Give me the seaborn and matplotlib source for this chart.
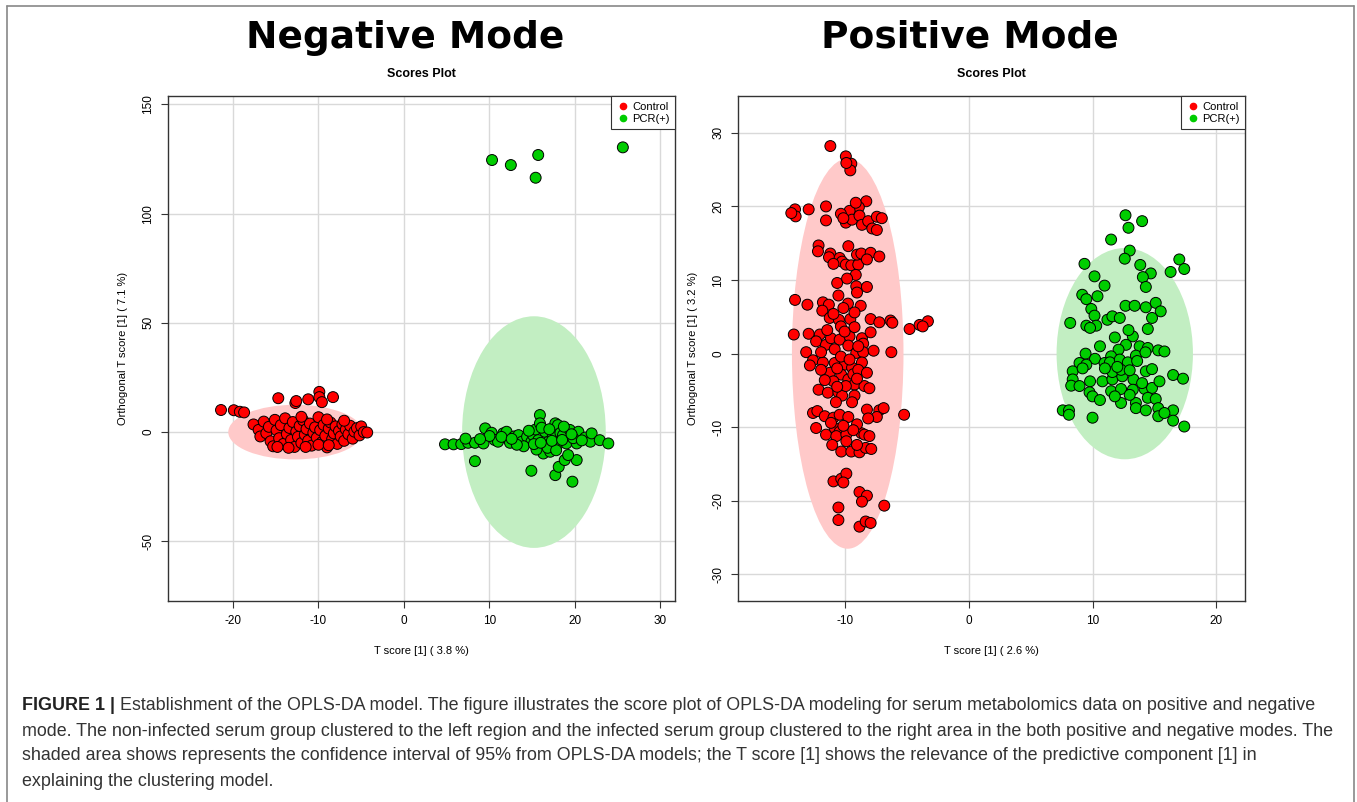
import pandas as pd
import matplotlib.pyplot as plt
import seaborn as sns
from matplotlib.patches import Ellipse
from matplotlib.lines import Line2D

# ---- data ----
# negative mode: (T score, orthogonal T score)
neg_control = [(-21.4, 10.1), (-19.9, 10.0), (-19.2, 9.3), (-18.7, 9.0), (-14.7, 15.5), (-12.7, 13.3),
               (-12.6, 14.2), (-11.2, 15.0), (-9.9, 18.4), (-9.9, 16.0), (-9.6, 13.7), (-8.3, 16.0),
               (-17.6, 3.5), (-17.0, 1.0), (-16.8, -2.0), (-16.4, 4.8), (-16.1, -0.5), (-15.8, 2.4),
               (-15.6, -4.2), (-15.3, -6.5), (-15.1, 5.6), (-14.9, 0.8), (-14.6, -2.8), (-14.4, 3.2),
               (-14.1, -5.4), (-13.9, 6.3), (-13.7, -0.9), (-13.4, 1.9), (-13.2, -3.6), (-13.0, 4.6),
               (-12.8, -6.8), (-12.6, 0.2), (-12.4, -2.2), (-12.2, 2.8), (-12.0, -5.0), (-11.8, 5.4),
               (-11.6, -1.2), (-11.4, 1.4), (-11.2, -3.9), (-11.0, 3.9), (-10.8, -6.2), (-10.6, -0.3),
               (-10.4, 2.2), (-10.2, -2.6), (-10.0, 6.8), (-9.8, 0.9), (-9.6, -4.6), (-9.4, 3.3),
               (-9.2, -1.7), (-9.0, -7.0), (-8.8, 1.6), (-8.6, 4.4), (-8.4, -3.2), (-8.2, -0.6),
               (-8.0, 2.6), (-7.8, -5.4), (-7.6, 0.5), (-7.4, -2.0), (-7.2, 3.6), (-7.0, -4.0),
               (-6.8, 1.2), (-6.5, -1.0), (-6.3, 2.9), (-6.0, -3.0), (-5.8, 0.2), (-5.5, 1.8),
               (-5.2, -1.5), (-5.0, 2.6), (-4.7, 0.0), (-4.3, -0.2), (-13.5, -7.2), (-11.5, -6.8),
               (-10.0, -5.8), (-8.8, -6.0), (-14.8, -6.8), (-12.0, 7.0), (-9.0, 5.8), (-7.0, 5.2)]
neg_pcr = [(4.8, -5.6), (5.8, -5.6), (6.7, -5.5), (7.5, -4.9), (8.3, -4.9), (9.3, -5.2), (9.5, 1.7),
           (10.25, -0.3), (10.6, -3.6), (11.0, -4.4), (11.6, -0.6), (12.0, 0.15), (12.4, -4.9),
           (12.9, -2.0), (13.4, -1.4), (13.8, -4.4), (14.4, -2.1), (14.9, -4.4), (15.1, -1.4),
           (15.4, 1.2), (15.7, -3.7), (15.9, 7.8), (15.9, 4.0), (16.3, -6.7), (16.3, -9.8),
           (16.5, 0.15), (16.9, -4.4), (17.1, -9.0), (17.4, -2.2), (17.7, 4.0), (17.9, -6.0),
           (18.0, 3.2), (18.3, -0.4), (18.6, -1.4), (19.0, -5.2), (19.4, 1.0), (20.2, -5.2),
           (20.4, 0.15), (21.2, -2.5), (21.8, -4.4), (21.95, -0.6), (22.9, -3.7), (23.9, -5.2),
           (14.0, -6.5), (15.5, -8.0), (16.8, -7.2), (17.8, -8.3), (13.2, -5.8), (11.4, -2.2),
           (10.0, -1.8), (8.9, -3.2), (7.2, -3.0), (12.6, -3.1), (14.6, 0.6), (16.1, 2.0),
           (17.0, 1.3), (18.7, 2.5), (19.8, -2.8), (20.8, -3.8), (15.2, -5.5), (16.0, -4.9),
           (17.3, -4.0), (18.5, -3.6), (19.6, -1.0),
           (8.3, -13.3), (14.9, -17.7), (17.7, -19.7), (18.1, -15.9), (18.8, -12.8), (20.2, -12.8),
           (19.7, -22.7), (19.2, -10.5),
           (10.3, 124.5), (12.5, 122.2), (15.7, 126.8), (15.4, 116.4), (25.6, 130.3)]

# positive mode
pos_control = [(-11.15, 28.2), (-9.9, 26.8), (-9.46, 25.8), (-9.54, 24.9), (-9.86, 25.9), (-8.25, 20.7),
               (-8.85, 19.9), (-9.6, 19.4), (-10.3, 19.0), (-9.9, 17.8), (-9.4, 18.2), (-8.8, 18.75),
               (-8.6, 17.5), (-8.1, 18.0), (-7.77, 17.0), (-7.4, 16.8), (-7.4, 18.6), (-7.0, 18.4),
               (-11.5, 20.0), (-11.5, 18.1), (-12.9, 19.6), (-14.0, 19.6), (-13.95, 18.65), (-14.3, 19.1),
               (-12.1, 14.7), (-12.15, 13.9), (-11.15, 13.6), (-11.26, 13.1), (-10.4, 13.0), (-10.2, 12.5),
               (-9.9, 12.1), (-9.46, 12.0), (-8.9, 12.1), (-9.0, 13.45), (-8.65, 13.6), (-7.9, 13.7),
               (-7.2, 13.2), (-9.1, 10.7), (-9.06, 9.15), (-8.2, 9.06), (-9.0, 8.3), (-14.0, 7.3),
               (-13.0, 6.65), (-11.75, 6.97), (-11.27, 6.65), (-11.8, 5.84), (-10.5, 7.9), (-9.73, 6.8),
               (-10.1, 6.2), (-8.7, 6.5), (-11.2, 4.85), (-10.46, 4.6), (-9.54, 4.7), (-7.9, 4.7),
               (-7.2, 4.26), (-6.3, 4.5), (-6.15, 4.2), (-4.76, 3.35), (-3.95, 3.9), (-3.28, 4.4),
               (-3.7, 3.7), (-10.3, 3.7), (-14.1, 2.6), (-12.9, 2.7), (-12.0, 2.6), (-12.3, 1.67),
               (-11.5, 1.2), (-11.1, 2.1), (-10.4, 1.9), (-9.6, 2.35), (-9.7, 1.1), (-8.6, 2.1),
               (-8.5, 1.36), (-9.06, 0.1), (-8.5, 0.2), (-7.66, 0.4), (-6.23, 0.2), (-13.1, 0.2),
               (-12.55, -0.9), (-11.75, -1.2), (-10.8, -1.27), (-10.0, -1.5), (-9.4, -1.9), (-11.2, -2.6),
               (-10.27, -2.85), (-9.7, -3.5), (-9.2, -4.2), (-10.9, -3.76), (-12.1, -4.9), (-11.35, -5.3),
               (-10.5, -5.25), (-10.2, -5.7), (-9.2, -5.7), (-8.4, -4.4), (-8.0, -4.7), (-12.55, -8.06),
               (-12.2, -7.8), (-11.6, -8.5), (-10.9, -8.7), (-10.4, -8.3), (-9.7, -8.6), (-8.2, -7.6),
               (-7.2, -7.7), (-6.85, -7.4), (-7.4, -8.6), (-5.2, -8.3), (-12.3, -10.1), (-11.5, -11.0),
               (-10.8, -10.1), (-10.4, -10.6), (-10.67, -11.2), (-9.86, -11.0), (-9.86, -11.9),
               (-8.65, -10.8), (-8.4, -11.0), (-8.0, -11.2), (-10.27, -13.3), (-9.46, -13.3),
               (-8.8, -13.4), (-8.3, -12.8), (-7.85, -12.95), (-10.9, -17.35), (-10.27, -17.0),
               (-9.86, -16.3), (-10.1, -17.5), (-8.8, -18.8), (-8.2, -19.3), (-8.6, -20.1), (-6.8, -20.65),
               (-10.5, -20.9), (-10.5, -22.6), (-8.8, -23.5), (-8.3, -22.8), (-7.9, -23.0),
               (-10.6, 9.6), (-9.8, 10.2), (-8.6, -1.2), (-9.3, -2.8), (-10.8, 0.6), (-11.9, -2.2),
               (-9.0, -9.6), (-11.0, -12.4),
               (-10.0, 3.0), (-9.2, 3.6), (-8.9, 1.0), (-10.3, -0.4), (-9.6, -0.8), (-8.9, -2.2),
               (-10.6, -2.0), (-9.9, -4.4), (-10.6, -4.5), (-9.4, -6.6), (-10.7, -6.6), (-11.6, -3.6),
               (-9.0, -3.4), (-8.2, -2.6), (-11.4, 3.2), (-10.9, 5.4), (-9.2, 5.6), (-10.9, 12.2),
               (-9.7, 14.6), (-8.2, 12.8), (-10.1, 18.4), (-9.1, 20.5), (-11.1, -9.4), (-9.3, -10.4),
               (-10.1, -9.8), (-9.0, -12.4), (-8.1, -8.8), (-12.8, -1.6), (-7.9, 2.9), (-11.9, 0.2)]
pos_pcr = [(12.66, 18.8), (14.0, 18.0), (12.9, 17.1), (11.5, 15.5), (13.0, 14.0), (12.6, 12.9), (9.35, 12.2),
           (13.85, 12.05), (14.7, 10.9), (14.06, 10.4), (14.3, 9.06), (10.16, 10.5), (10.97, 9.24),
           (17.0, 12.8), (17.4, 11.5), (16.3, 11.1), (9.17, 8.0), (9.5, 7.4), (10.4, 7.8), (9.9, 6.07),
           (10.16, 5.16), (8.2, 4.17), (9.5, 3.8), (10.3, 3.8), (9.8, 3.5), (11.2, 4.6), (11.6, 5.07),
           (12.2, 4.85), (12.66, 6.5), (13.4, 6.5), (14.3, 6.3), (15.1, 6.9), (15.5, 5.75), (14.8, 4.85),
           (14.46, 3.35), (13.25, 2.35), (12.7, 1.2), (13.8, 1.0), (14.46, 0.77), (15.3, 0.45),
           (15.8, 0.3), (12.1, 0.54), (11.5, -0.36), (9.44, 0.0), (10.2, -0.7), (8.95, -1.27),
           (9.5, -1.5), (10.97, -1.27), (11.4, -1.18), (12.2, -0.8), (12.85, -1.18), (13.5, -0.27),
           (14.27, 0.18), (8.4, -2.4), (8.4, -3.5), (8.28, -4.35), (8.95, -4.4), (9.8, -3.76),
           (10.8, -3.76), (11.6, -3.5), (12.4, -3.08), (13.3, -3.5), (11.6, -2.5), (12.3, -2.2),
           (13.0, -2.26), (14.3, -2.4), (14.8, -2.1), (16.5, -2.9), (17.3, -3.4), (9.76, -5.25),
           (10.0, -5.8), (11.5, -5.1), (12.3, -4.8), (13.25, -4.9), (14.2, -4.8), (14.8, -4.66),
           (15.4, -3.76), (14.46, -6.0), (15.1, -6.16), (12.3, -6.7), (13.5, -6.7), (13.5, -7.4),
           (14.3, -7.7), (15.3, -7.4), (15.3, -8.5), (16.5, -7.7), (16.5, -9.1), (17.4, -9.9),
           (7.6, -7.7), (8.1, -7.7), (8.1, -8.3), (10.0, -8.7), (15.8, -8.06),
           (11.0, -2.0), (12.0, -1.8), (13.6, -1.0), (10.6, 1.0), (11.8, 2.2), (12.9, 3.2),
           (14.0, -4.0), (13.0, -5.6), (10.6, -6.3), (11.8, -5.8), (9.2, -2.0)]

# 95% confidence ellipses: centre x, centre y, full width, full height
neg_ellipses = {"Control": (-12.7, 0.0, 15.7, 25.0), "PCR(+)": (15.2, 0.0, 16.8, 106.0)}
pos_ellipses = {"Control": (-9.75, 0.0, 9.0, 53.0), "PCR(+)": (12.6, 0.0, 11.0, 28.7)}

neg_xticks = [-20, -10, 0, 10, 20, 30]
neg_yticks = [-50, 0, 50, 100, 150]
pos_xticks = [-10, 0, 10, 20]
pos_yticks = [-30, -20, -10, 0, 10, 20, 30]

groups = ["Control", "PCR(+)"]
colors = {"Control": "#FF0000", "PCR(+)": "#00CD00"}
fills = {"Control": "#FFC9C9", "PCR(+)": "#C2EEC2"}


def frame(ctrl, pcr):
    rows = [(x, y, "Control") for x, y in ctrl] + [(x, y, "PCR(+)") for x, y in pcr]
    return pd.DataFrame(rows, columns=["t", "to", "group"])


sns.set_theme(style="white")
plt.rcParams["font.family"] = ["Liberation Sans", "DejaVu Sans"]
plt.rcParams["axes.unicode_minus"] = False
plt.rcParams["text.color"] = "black"
plt.rcParams["axes.labelcolor"] = "black"
plt.rcParams["xtick.color"] = "black"
plt.rcParams["ytick.color"] = "black"

W, H = 1357, 802
fig = plt.figure(figsize=(W / 100, H / 100), dpi=100)
ax1 = fig.add_axes([168 / W, 1 - 601 / H, 507 / W, 505 / H])
ax2 = fig.add_axes([738 / W, 1 - 601 / H, 507 / W, 505 / H])

panels = [
    (ax1, frame(neg_control, neg_pcr), neg_ellipses, neg_xticks, neg_yticks, (-27.6, 31.7), (-77.3, 153.8),
     "T score [1] ( 3.8 %)", "Orthogonal T score [1] ( 7.1 %)", "Negative Mode", 405),
    (ax2, frame(pos_control, pos_pcr), pos_ellipses, pos_xticks, pos_yticks, (-18.6, 22.3), (-33.6, 35.0),
     "T score [1] ( 2.6 %)", "Orthogonal T score [1] ( 3.2 %)", "Positive Mode", 970),
]

for ax, df, ell, xt, yt, xl, yl, xlab, ylab, title, tx in panels:
    ax.set_xticks(xt)
    ax.set_yticks(yt)
    ax.set_xlim(xl)
    ax.set_ylim(yl)
    ax.grid(True, color="#D9D9D9", lw=1)
    ax.set_axisbelow(True)
    for g in groups:
        cx, cy, w, h = ell[g]
        ax.add_patch(Ellipse((cx, cy), w, h, facecolor=fills[g], edgecolor="none", zorder=1))
    sns.scatterplot(data=df, x="t", y="to", hue="group", palette=colors, s=62,
                    edgecolor="black", linewidth=0.7, legend=False, ax=ax, zorder=3)
    ax.set_xlabel(xlab, fontsize=8, labelpad=14)
    ax.set_ylabel(ylab, fontsize=8, labelpad=10)
    ax.set_title("Scores Plot", fontsize=9, fontweight="bold", pad=14, color="black")
    ax.tick_params(axis="both", labelsize=8.5, length=5, width=0.8, color="#333333",
                   direction="out", bottom=True, left=True, pad=5)
    plt.setp(ax.get_yticklabels(), rotation=90, va="center")
    for sp in ax.spines.values():
        sp.set_color("#333333")
        sp.set_linewidth(1)
    handles = [Line2D([], [], marker="o", ls="", color=colors[g], markersize=4.5, label=g) for g in groups]
    leg = ax.legend(handles=handles, loc="upper right", borderaxespad=0, fontsize=8, frameon=True,
                    fancybox=False, framealpha=1, handletextpad=0.2, handlelength=1.2,
                    borderpad=0.5, labelspacing=0.2)
    leg.get_frame().set_edgecolor("#333333")
    leg.get_frame().set_linewidth(0.8)
    fig.text(tx / W, 1 - 38 / H, title, ha="center", va="center", fontsize=27,
             fontweight="heavy", family="DejaVu Sans", color="black")

# outer frame of the figure panel
for xs, ys in [([7, 7], [802, 6]), ([7, 1354], [6, 6]), ([1354, 1354], [6, 802])]:
    fig.add_artist(Line2D([x / W for x in xs], [1 - y / H for y in ys], color="#888888", lw=1.2))

# caption
lines = [
    "Establishment of the OPLS-DA model. The figure illustrates the score plot of OPLS-DA modeling for serum metabolomics data on positive and negative",
    "mode. The non-infected serum group clustered to the left region and the infected serum group clustered to the right area in the both positive and negative modes. The",
    "shaded area shows represents the confidence interval of 95% from OPLS-DA models; the T score [1] shows the relevance of the predictive component [1] in",
    "explaining the clustering model.",
]
renderer = fig.canvas.get_renderer()
probe = fig.text(0, 0, lines[1], fontsize=10)
scale = (1340 - 22) / probe.get_window_extent(renderer).width
probe.remove()
cap_size = 10 * scale
head = fig.text(22 / W, 1 - 706 / H, "FIGURE 1 |", fontsize=cap_size, fontweight="bold",
                color="#222222", va="center")
hx = head.get_window_extent(renderer).x1 + 5
ys = [706, 731, 756, 781]
fig.text(hx / W, 1 - ys[0] / H, lines[0], fontsize=cap_size, color="#333333", va="center")
for ln, y in zip(lines[1:], ys[1:]):
    fig.text(22 / W, 1 - y / H, ln, fontsize=cap_size, color="#333333", va="center")

fig.savefig("out.png", dpi=100)
